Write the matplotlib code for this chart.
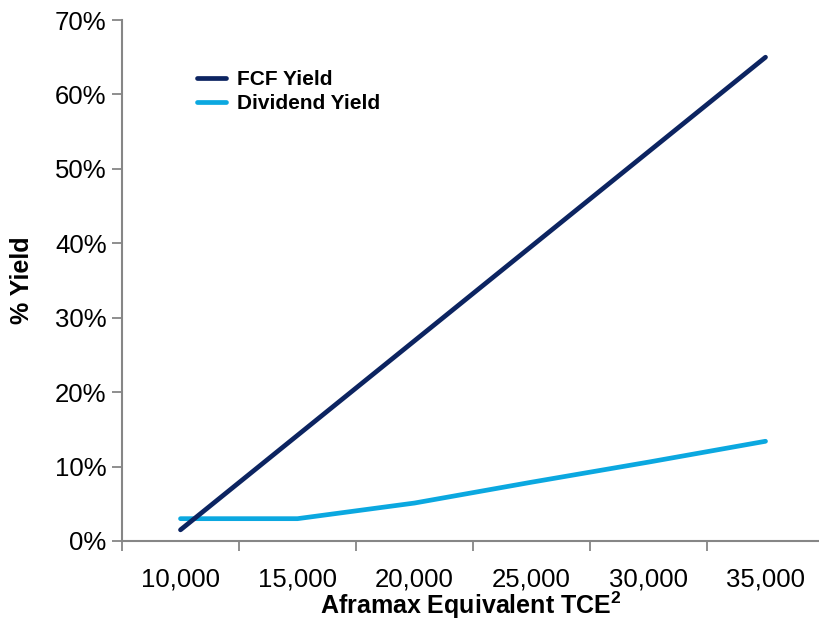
import matplotlib
matplotlib.use("Agg")
import matplotlib.pyplot as plt
from matplotlib.ticker import FixedLocator, FuncFormatter

plt.rcParams['font.family'] = ['Liberation Sans', 'DejaVu Sans']
plt.rcParams['mathtext.fontset'] = 'custom'
plt.rcParams['mathtext.rm'] = 'Liberation Sans'
plt.rcParams['mathtext.bf'] = 'Liberation Sans:bold'

# Data
tce_labels = ["10,000", "15,000", "20,000", "25,000", "30,000", "35,000"]
fcf_yield = [1.5, 14.2, 26.9, 39.6, 52.3, 65.0]
dividend_yield = [3.0, 3.0, 5.1, 7.9, 10.6, 13.4]
yticks = [0, 10, 20, 30, 40, 50, 60, 70]

navy = "#0C2461"
sky = "#0BA8E0"
axis_grey = "#868686"

fig = plt.figure(figsize=(8.19, 6.24), dpi=100)
ax = fig.add_axes([122 / 819, 1 - 541 / 624, 1 - 122 / 819, (541 - 20) / 624])

x = list(range(len(tce_labels)))
ax.plot(x, fcf_yield, color=navy, lw=3.4, solid_capstyle="round", label="FCF Yield", zorder=3)
ax.plot(x, dividend_yield, color=sky, lw=3.4, solid_capstyle="round", label="Dividend Yield", zorder=2)

# Category axis: labels centred on categories, tick marks between them
ax.set_xlim(-0.5, -0.5 + 697 / 117)
ax.set_xticks(x)
ax.set_xticklabels(tce_labels)
ax.xaxis.set_minor_locator(FixedLocator([i - 0.5 for i in range(len(tce_labels))]))
ax.tick_params(axis="x", which="major", length=0, pad=19, labelsize=18.5)
ax.tick_params(axis="x", which="minor", length=7, width=1.3, color=axis_grey, direction="out")

ax.set_ylim(0, 70)
ax.set_yticks(yticks)
ax.yaxis.set_major_formatter(FuncFormatter(lambda v, _: f"{int(v)}%"))
ax.tick_params(axis="y", length=7, width=1.3, color=axis_grey, direction="out", pad=4, labelsize=18.5)

for side in ("top", "right"):
    ax.spines[side].set_visible(False)
for side in ("left", "bottom"):
    ax.spines[side].set_color(axis_grey)
    ax.spines[side].set_linewidth(1.5)

ax.set_xlabel(r"Aframax Equivalent TCE$^{\mathbf{2}}$", fontsize=18, fontweight="bold", labelpad=-1)
ax.set_ylabel("% Yield", fontsize=18, fontweight="bold", labelpad=15)

leg = ax.legend(loc="upper left", bbox_to_anchor=(0.081, 0.94), frameon=False,
                prop={"size": 15, "weight": "bold"}, handlelength=1.4,
                handletextpad=0.5, labelspacing=0.26)
for line in leg.get_lines():
    line.set_linewidth(3.4)

fig.savefig("out.png", dpi=100)
